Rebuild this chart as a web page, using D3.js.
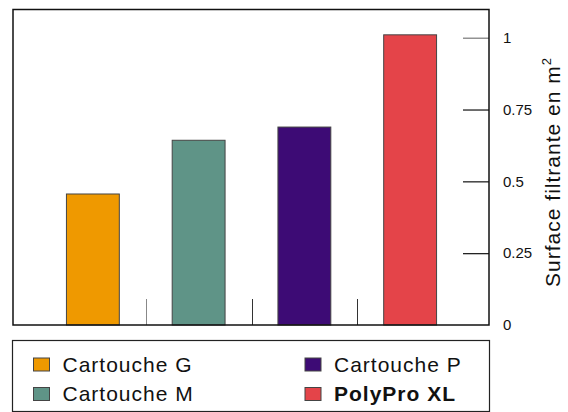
<!DOCTYPE html>
<html>
<head>
<meta charset="utf-8">
<script src="https://cdn.jsdelivr.net/npm/d3@7"></script>
<style>
  body { margin: 0; background: #fff; }
  text { font-family: "Liberation Sans", Arial, sans-serif; fill: #111; }
</style>
</head>
<body>
<svg width="568" height="412"></svg>
<script>
  // data
  var categories = ['Cartouche G', 'Cartouche M', 'Cartouche P', 'PolyPro XL'];
  var values = [0.456, 0.643, 0.689, 1.01];
  var colors = ['#ef9900', '#5f9487', '#3d0b75', '#e44449'];
  var tickValues = [0, 0.25, 0.5, 0.75, 1];
  var tickLabels = ['0', '0.25', '0.5', '0.75', '1'];

  var svg = d3.select('svg');

  var frame = { left: 13, right: 489, top: 9.5, bottom: 325 };

  var x = d3.scaleBand()
    .domain(categories)
    .range([40, 463])
    .paddingInner(0.5)
    .paddingOuter(0.25);

  var y = d3.scaleLinear()
    .domain([0, 1])
    .range([frame.bottom, 37.7]);

  // separators between categories
  var step = x.step();
  svg.selectAll('line.sep')
    .data(categories.slice(1))
    .enter().append('line')
    .attr('class', 'sep')
    .attr('x1', function(d) { return Math.round(x(d) - x.paddingInner() * step / 2) + 0.5; })
    .attr('x2', function(d) { return Math.round(x(d) - x.paddingInner() * step / 2) + 0.5; })
    .attr('y1', frame.bottom)
    .attr('y2', frame.bottom - 26)
    .attr('stroke', function(d, i) { return i === 0 ? '#888' : '#333'; })
    .attr('stroke-width', 1);

  // bars
  svg.selectAll('rect.bar')
    .data(values)
    .enter().append('rect')
    .attr('class', 'bar')
    .attr('x', function(d, i) { return x(categories[i]); })
    .attr('width', x.bandwidth())
    .attr('y', function(d) { return y(d); })
    .attr('height', function(d) { return y(0) - y(d); })
    .attr('fill', function(d, i) { return colors[i]; })
    .attr('stroke', '#444')
    .attr('stroke-width', 1);

  // right axis (ticks inside)
  var axis = d3.axisRight(y)
    .tickValues(tickValues)
    .tickSize(0)
    .tickPadding(14)
    .tickFormat(function(d, i) { return tickLabels[i]; });

  var g = svg.append('g')
    .attr('transform', 'translate(' + frame.right + ',0)')
    .call(axis);
  g.select('.domain').remove();
  g.selectAll('.tick text')
    .style('font-size', '15px')
    .attr('fill', '#111');
  g.selectAll('.tick')
    .filter(function(d) { return d > 0; })
    .append('line')
    .attr('x1', -26).attr('x2', 0)
    .attr('stroke', function(d) { return d === 1 ? '#777' : '#111'; })
    .attr('stroke-width', 1.2);

  // frame
  svg.append('rect')
    .attr('x', frame.left)
    .attr('y', frame.top)
    .attr('width', frame.right - frame.left)
    .attr('height', frame.bottom - frame.top)
    .attr('fill', 'none')
    .attr('stroke', '#111')
    .attr('stroke-width', 1.5);

  // axis title
  var title = svg.append('text')
    .attr('transform', 'translate(560,172) rotate(-90)')
    .attr('text-anchor', 'middle')
    .style('font-size', '21px')
    .style('letter-spacing', '1px');
  title.append('tspan').text('Surface filtrante en m');
  title.append('tspan').text('2').attr('dy', -9).style('font-size', '13px');

  // legend
  svg.append('rect')
    .attr('x', 12.5).attr('y', 340.5)
    .attr('width', 477).attr('height', 71)
    .attr('fill', 'none')
    .attr('stroke', '#222')
    .attr('stroke-width', 1.2);

  var legPos = [[33.5, 358], [33.5, 387.5], [305, 358], [305, 387.5]];
  var leg = svg.selectAll('g.leg')
    .data(categories)
    .enter().append('g')
    .attr('class', 'leg')
    .attr('transform', function(d, i) { return 'translate(' + legPos[i][0] + ',' + legPos[i][1] + ')'; });

  leg.append('rect')
    .attr('width', 16).attr('height', 13)
    .attr('fill', function(d, i) { return colors[i]; })
    .attr('stroke', '#444')
    .attr('stroke-width', 1);

  leg.append('text')
    .attr('x', 29)
    .attr('y', 13.5)
    .style('font-size', '21px')
    .style('letter-spacing', '1px')
    .style('font-weight', function(d, i) { return i === 3 ? 'bold' : 'normal'; })
    .text(function(d) { return d; });
</script>
</body>
</html>
